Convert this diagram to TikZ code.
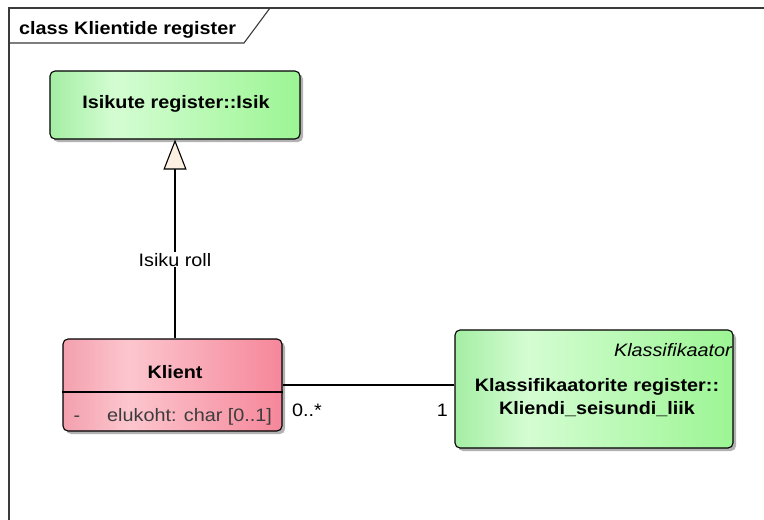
\documentclass[tikz,border=0pt]{standalone}
\usepackage{fontspec}
\setmainfont{Liberation Sans}[FakeStretch=1.1]
\newfontfamily\diagfont{Liberation Sans}[FakeStretch=1.1]
\usetikzlibrary{arrows.meta,shadows}

\definecolor{gA}{HTML}{A4EEA4}
\definecolor{gB}{HTML}{D4FDD2}
\definecolor{gC}{HTML}{9CF594}
\definecolor{pA}{HTML}{F3A0AE}
\definecolor{pB}{HTML}{FCC6CE}
\definecolor{pC}{HTML}{F5879A}
\definecolor{framecol}{HTML}{3A3A3A}
\definecolor{tipfill}{HTML}{FCF0E2}
\definecolor{attrcol}{HTML}{3C3C3C}

% horizontal gradients of the class boxes (path spans 25bp..75bp)
\pgfdeclarehorizontalshading{greenbox}{100bp}{color(0bp)=(gA); color(25bp)=(gA); color(38bp)=(gB); color(75bp)=(gC); color(100bp)=(gC)}
\pgfdeclarehorizontalshading{pinkbox}{100bp}{color(0bp)=(pA); color(25bp)=(pA); color(40bp)=(pB); color(75bp)=(pC); color(100bp)=(pC)}

\tikzset{
  classbox/.style={draw=black, line width=1.1pt, rounded corners=5pt,
    inner sep=0pt, drop shadow={shadow xshift=3pt, shadow yshift=-3pt, fill=black!30, opacity=1}},
  greenclass/.style={classbox, shading=greenbox},
  pinkclass/.style={classbox, shading=pinkbox},
  txt/.style={inner sep=0pt, font=\diagfont\fontsize{18}{23}\selectfont},
  btxt/.style={txt, font=\diagfont\bfseries\fontsize{18}{23}\selectfont},
  conn/.style={draw=black, line width=1.1pt},
}

\begin{document}
\begin{tikzpicture}[x=1pt, y=-1pt]
  \useasboundingbox (0,0) rectangle (764,520);
  \fill[white] (0,0) rectangle (764,520);

  % diagram frame with its name tab
  \draw[framecol, line width=1.6pt] (9,521) -- (9,8) -- (765,8);
  \draw[framecol, line width=1.1pt] (9,43) -- (244,43) -- (270,8);
  \node[btxt, anchor=base west] (title) at (19,34) {class Klientide register};

  % classes
  \node[greenclass, minimum width=250pt, minimum height=68pt] (isik) at (175,105) {};
  \node[btxt, anchor=base] (isikname) at (176,108) {Isikute register::Isik};

  \node[pinkclass, minimum width=219pt, minimum height=92pt] (klient) at (172.5,385) {};
  \draw[black, line width=1.1pt] (klient.west |- 0,392) -- (klient.east |- 0,392);
  \node[btxt, anchor=base] (klientname) at (175,378) {Klient};
  \node[txt, anchor=base, text=attrcol] (vis) at (77,421) {-};
  \node[txt, anchor=base west, text=attrcol] (attr) at (107,421) {elukoht: char [0..1]};

  \node[greenclass, minimum width=278pt, minimum height=118pt] (klass) at (594,389) {};
  \node[txt, anchor=base east, font=\diagfont\itshape\fontsize{18}{23}\selectfont] (stereo) at (732,356) {Klassifikaator};
  \node[btxt, anchor=base] (klassname1) at (597,391) {Klassifikaatorite register::};
  \node[btxt, anchor=base] (klassname2) at (597,414) {Kliendi\_seisundi\_liik};

  % generalization (vertical, on the axis of the parent class)
  \draw[conn, -{Triangle[length=30pt, width=23pt, fill=tipfill, line width=1.1pt]}]
    (isik.south |- klient.north) -- (isik.south)
    node[pos=0.395, txt, fill=white, inner sep=1pt] (rolelabel) {Isiku roll};

  % association
  \draw[conn] (klient.east) -- (klass.west |- klient.east);
  \node[txt, anchor=base west] (multA) at (292,416) {0..*};
  \node[txt, anchor=base east] (multB) at (448,416) {1};
\end{tikzpicture}
\end{document}
